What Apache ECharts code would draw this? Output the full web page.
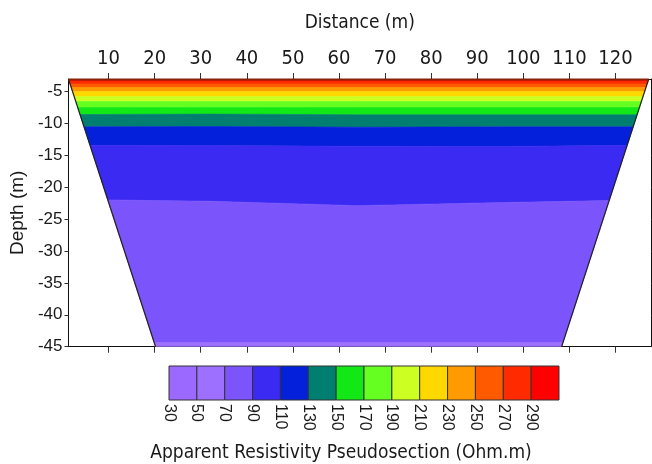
<!DOCTYPE html>
<html>
<head>
<meta charset="utf-8">
<script src="https://cdn.jsdelivr.net/npm/echarts@6/dist/echarts.min.js"></script>
<style>html,body{margin:0;padding:0;background:#fff}#c{width:652px;height:464px}</style>
</head>
<body>
<div id="c"></div>
<script>
// ---- data ----
const xTicks = [10, 20, 30, 40, 50, 60, 70, 80, 90, 100, 110, 120];
const yTicks = [-45, -40, -35, -30, -25, -20, -15, -10, -5];
const legendLabels = ['30', '50', '70', '90', '110', '130', '150', '170', '190', '210', '230', '250', '270', '290'];
const legendLevels = [30, 50, 70, 90, 110, 130, 150, 170, 190, 210, 230, 250, 270, 290];
// pseudosection outline (distance m, depth m)
const sectionTopX = [1.3, 127.2];
const sectionBottomX = [20.2, 108.3];
const sectionDepth = [-3.05, -45];
// contour boundary depths sampled across distance
const sampleX = [1.3, 32, 64, 96, 127.2];
const boundaryDepths = [
  [-3.05, -3.05, -3.05, -3.05, -3.05],
  [-3.36, -3.36, -3.36, -3.36, -3.36],
  [-3.83, -3.83, -3.83, -3.83, -3.83],
  [-4.38, -4.38, -4.38, -4.38, -4.38],
  [-5.01, -5.01, -5.01, -5.01, -5.01],
  [-5.79, -5.79, -5.79, -5.79, -5.79],
  [-6.58, -6.58, -6.58, -6.58, -6.58],
  [-7.52, -7.50, -7.52, -7.52, -7.52],
  [-8.62, -8.55, -8.65, -8.65, -8.65],
  [-10.55, -10.5, -10.6, -10.55, -10.55],
  [-13.45, -13.47, -13.6, -13.62, -13.45],
  [-22.0, -22.2, -22.9, -22.4, -22.1],
  [-44.4, -44.4, -44.4, -44.4, -44.4],
  [-45, -45, -45, -45, -45]
];
// representative apparent resistivity of each band (Ohm.m), top to bottom
const bandValues = [300, 280, 260, 240, 220, 200, 180, 160, 140, 120, 100, 80, 60];

// ---- styles ----
const classColors = ['#9b69ff', '#9e70ff', '#7b55fb', '#3a2af2', '#0420da', '#007f70', '#12e816', '#66ff22',
  '#ccff22', '#ffd800', '#ff9a00', '#ff5a00', '#ff2a00', '#ff0000'];
const NARROW = "'Liberation Sans Narrow','DejaVu Sans Condensed','Liberation Sans',sans-serif";
const REG = "'Liberation Sans',Arial,sans-serif";
const TXT = '#1a1a1a';

function classOf(v) {
  let c = 0;
  for (let i = 0; i < legendLevels.length; i++) if (v >= legendLevels[i]) c = i;
  return c;
}
function edgeX(side, d) {
  const t = (sectionDepth[0] - d) / (sectionDepth[0] - sectionDepth[1]);
  return sectionTopX[side] + (sectionBottomX[side] - sectionTopX[side]) * t;
}
function boundaryPts(k) {
  const ds = boundaryDepths[k];
  const dl = ds[0], dr = ds[ds.length - 1];
  const xl = edgeX(0, dl), xr = edgeX(1, dr);
  const pts = [[xl, dl]];
  for (let i = 1; i < sampleX.length - 1; i++) {
    if (sampleX[i] > xl && sampleX[i] < xr) pts.push([sampleX[i], ds[i]]);
  }
  pts.push([xr, dr]);
  return pts;
}

const chart = echarts.init(document.getElementById('c'), null, {renderer: 'canvas'});
const axisLine = {show: true, lineStyle: {color: '#111', width: 1}};
const tickStyle = {color: '#333', width: 1};

const option = {
  animation: false,
  backgroundColor: '#fff',
  grid: [
    {left: 65, top: 79, right: 1, bottom: 464 - 346.7},
    {left: 169, top: 366, width: 390, height: 34}
  ],
  xAxis: [
    {
      type: 'value', gridIndex: 0, position: 'top', min: 1.3, max: 127.7,
      name: 'Distance (m)', nameLocation: 'middle', nameGap: 46,
      nameTextStyle: {fontFamily: NARROW, fontSize: 19, color: TXT},
      axisLine: axisLine,
      axisTick: {show: true, inside: false, length: 6, customValues: xTicks, lineStyle: tickStyle},
      axisLabel: {show: true, customValues: xTicks, margin: 10, fontFamily: NARROW, fontSize: 20, color: TXT},
      splitLine: {show: false}
    },
    {
      type: 'value', gridIndex: 0, position: 'bottom', min: 1.3, max: 127.7,
      axisLine: axisLine,
      axisTick: {show: true, inside: false, length: 6, customValues: xTicks, lineStyle: tickStyle},
      axisLabel: {show: false},
      splitLine: {show: false}
    },
    {
      type: 'value', gridIndex: 1, min: 0, max: 14, interval: 1,
      axisLine: {show: false}, axisTick: {show: false}, splitLine: {show: false},
      axisLabel: {
        show: true, rotate: -90, margin: 4, fontFamily: REG, fontSize: 16, color: TXT,
        showMaxLabel: false,
        formatter: function (v) { return legendLabels[v] !== undefined ? legendLabels[v] : ''; }
      }
    }
  ],
  yAxis: [
    {
      type: 'value', gridIndex: 0, position: 'left', min: -45, max: -3.05,
      name: 'Depth (m)', nameLocation: 'middle', nameGap: 37,
      nameTextStyle: {fontFamily: REG, fontSize: 19, color: TXT},
      axisLine: axisLine,
      axisTick: {show: true, inside: false, length: 4, customValues: yTicks, lineStyle: tickStyle},
      axisLabel: {show: true, customValues: yTicks, margin: 6, fontFamily: REG, fontSize: 17, color: TXT},
      splitLine: {show: false}
    },
    {
      type: 'value', gridIndex: 0, position: 'right', min: -45, max: -3.05,
      axisLine: axisLine,
      axisTick: {show: true, inside: false, length: 5, customValues: yTicks, lineStyle: tickStyle},
      axisLabel: {show: false},
      splitLine: {show: false}
    },
    {
      type: 'value', gridIndex: 1, min: 0, max: 1, show: false
    }
  ],
  series: [
    {
      type: 'custom', xAxisIndex: 0, yAxisIndex: 0, clip: true, z: 2,
      data: bandValues.map(function (v, i) { return [i, v]; }),
      renderItem: function (params, api) {
        const b = api.value(0);
        const top = boundaryPts(b);
        const bot = boundaryPts(b + 1).reverse();
        const pts = top.concat(bot).map(function (p) { return api.coord(p); });
        const col = classColors[classOf(bandValues[b])];
        return {type: 'polygon', shape: {points: pts}, style: {fill: col, stroke: col, lineWidth: 0.6}};
      }
    },
    {
      type: 'custom', xAxisIndex: 0, yAxisIndex: 0, clip: false, z: 3,
      data: [[0, 0]],
      renderItem: function (params, api) {
        const tl = api.coord([sectionTopX[0], sectionDepth[0]]);
        const tr = api.coord([sectionTopX[1], sectionDepth[0]]);
        const bl = api.coord([sectionBottomX[0], sectionDepth[1]]);
        const br = api.coord([sectionBottomX[1], sectionDepth[1]]);
        return {
          type: 'group', children: [
            {type: 'polyline', shape: {points: [tl, bl]}, style: {stroke: '#222', lineWidth: 1.2, fill: null}},
            {type: 'polyline', shape: {points: [tr, br]}, style: {stroke: '#222', lineWidth: 1.2, fill: null}},
            {type: 'polyline', shape: {points: [[tl[0], tl[1] + 0.5], [tr[0], tr[1] + 0.5]]}, style: {stroke: '#8a2208', lineWidth: 2, fill: null}}
          ]
        };
      }
    },
    {
      type: 'custom', xAxisIndex: 2, yAxisIndex: 2, clip: false, z: 2,
      data: legendLevels.map(function (v, i) { return [i, v]; }),
      renderItem: function (params, api) {
        const i = api.value(0);
        const p0 = api.coord([i, 1]);
        const p1 = api.coord([i + 1, 0]);
        return {
          type: 'rect',
          shape: {x: p0[0], y: p0[1], width: p1[0] - p0[0], height: p1[1] - p0[1]},
          style: {fill: classColors[classOf(api.value(1))], stroke: '#333', lineWidth: 1}
        };
      }
    }
  ],
  graphic: [
    {
      type: 'text', x: 341, y: 453, silent: true,
      style: {
        text: 'Apparent Resistivity Pseudosection (Ohm.m)',
        fontFamily: NARROW, fontSize: 19, fill: TXT, align: 'center', verticalAlign: 'middle'
      }
    }
  ]
};
chart.setOption(option);
</script>
</body>
</html>
